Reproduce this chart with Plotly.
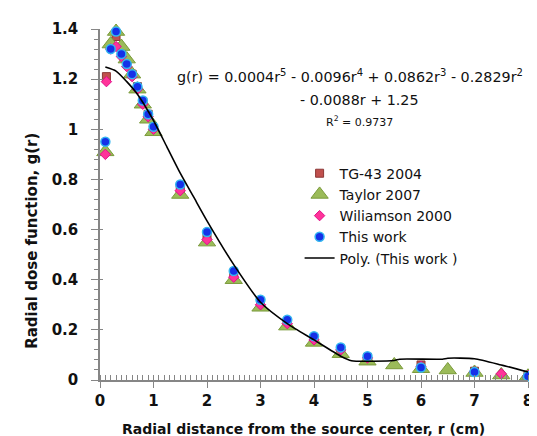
import plotly.graph_objects as go

# ---------------- data ----------------
r_tg43 = [0.12, 0.2, 0.3, 0.4, 0.5, 0.6, 0.7, 0.8, 0.9, 1.0, 1.5, 2.0, 2.5, 3.0, 3.5, 4.0, 4.5, 5.0, 6.0, 7.0, 8.0]
g_tg43 = [1.21, 1.33, 1.37, 1.31, 1.27, 1.22, 1.17, 1.11, 1.06, 1.00, 0.76, 0.57, 0.42, 0.31, 0.23, 0.165, 0.12, 0.09, 0.06, 0.035, 0.02]

r_taylor = [0.1, 0.2, 0.3, 0.4, 0.5, 0.6, 0.7, 0.8, 0.9, 1.0, 1.5, 2.0, 2.5, 3.0, 3.5, 4.0, 4.5, 5.0, 5.5, 6.0, 6.5, 7.0, 7.5, 8.0]
g_taylor = [0.91, 1.34, 1.39, 1.33, 1.28, 1.22, 1.16, 1.10, 1.04, 0.99, 0.74, 0.55, 0.40, 0.29, 0.215, 0.15, 0.105, 0.075, 0.06, 0.045, 0.04, 0.03, 0.02, 0.015]

r_will = [0.1, 0.12, 0.2, 0.3, 0.4, 0.5, 0.6, 0.7, 0.8, 0.9, 1.0, 1.5, 2.0, 2.5, 3.0, 3.5, 4.0, 4.5, 5.0, 6.0, 7.0, 7.5, 8.0]
g_will = [0.90, 1.19, 1.32, 1.33, 1.29, 1.25, 1.21, 1.16, 1.10, 1.05, 1.00, 0.755, 0.56, 0.41, 0.30, 0.225, 0.16, 0.12, 0.088, 0.055, 0.033, 0.025, 0.018]

r_this = [0.1, 0.2, 0.3, 0.4, 0.5, 0.6, 0.7, 0.8, 0.9, 1.0, 1.5, 2.0, 2.5, 3.0, 3.5, 4.0, 4.5, 5.0, 6.0, 7.0, 8.0]
g_this = [0.95, 1.32, 1.39, 1.30, 1.26, 1.22, 1.17, 1.115, 1.06, 1.01, 0.78, 0.59, 0.435, 0.32, 0.24, 0.175, 0.13, 0.095, 0.05, 0.032, 0.015]

# polynomial trendline (This work)
r_fit = [0.1, 0.3, 0.5, 0.7, 1.0, 1.25, 1.5, 1.75, 2.0, 2.5, 3.0, 3.5, 4.0, 4.5, 4.7, 5.5, 5.6, 6.4, 6.5, 7.0, 7.5, 8.0]
g_fit = [1.248, 1.232, 1.19, 1.14, 1.035, 0.93, 0.825, 0.73, 0.635, 0.46, 0.31, 0.225, 0.16, 0.095, 0.077, 0.078, 0.083, 0.083, 0.087, 0.085, 0.06, 0.032]

x_ticks = [0, 1, 2, 3, 4, 5, 6, 7, 8]
y_ticks = [0, 0.2, 0.4, 0.6, 0.8, 1.0, 1.2, 1.4]
y_ticklabels = ["0", "0.2", "0.4", "0.6", "0.8", "1", "1.2", "1.4"]

names = ["TG-43 2004", "Taylor 2007", "Wiliamson 2000", "This work", "Poly. (This work )"]
eq_line1 = "g(r) = 0.0004r<sup>5</sup> - 0.0096r<sup>4</sup> + 0.0862r<sup>3</sup> - 0.2829r<sup>2</sup>"
eq_line2 = "- 0.0088r + 1.25"
eq_r2 = "R<sup>2</sup> = 0.9737"
x_title = "Radial distance from the source center, r (cm)"
y_title = "Radial dose function, g(r)"

FONT = "DejaVu Sans"
AX = "#868686"

fig = go.Figure()
fig.add_trace(go.Scatter(x=r_tg43, y=g_tg43, mode="markers", name=names[0],
                         marker=dict(symbol="square", size=8, color="#C0504D",
                                     line=dict(color="#8C3836", width=1)),
                         cliponaxis=False))
fig.add_trace(go.Scatter(x=r_taylor, y=g_taylor, mode="markers", name=names[1],
                         marker=dict(symbol="triangle-up", size=15, color="#9BBB59",
                                     line=dict(color="#7A9A3A", width=1)),
                         cliponaxis=False))
fig.add_trace(go.Scatter(x=r_will, y=g_will, mode="markers", name=names[2],
                         marker=dict(symbol="diamond", size=8, color="#FF3399",
                                     line=dict(color="#E0108A", width=1)),
                         cliponaxis=False))
fig.add_trace(go.Scatter(x=r_this, y=g_this, mode="markers", name=names[3],
                         marker=dict(symbol="circle", size=9, color="#1530E8",
                                     line=dict(color="#33B5F0", width=1.5)),
                         cliponaxis=False))
fig.add_trace(go.Scatter(x=r_fit, y=g_fit, mode="lines", name=names[4],
                         line=dict(color="black", width=1.6, shape="spline", smoothing=0.6),
                         cliponaxis=False))

# invisible trace to carry the crossing (inside) part of the major ticks
fig.add_trace(go.Scatter(x=[0, 8], y=[0, 1.4], xaxis="x2", yaxis="y2", mode="markers",
                         marker=dict(opacity=0), showlegend=False, hoverinfo="skip"))

fig.update_layout(
    width=537, height=436,
    margin=dict(l=92, r=14, t=20, b=64),
    paper_bgcolor="white", plot_bgcolor="white",
    font=dict(family=FONT, color="black"),
    xaxis=dict(range=[0, 8], tickvals=x_ticks, ticks="outside", ticklen=6, tickwidth=1.2,
               tickcolor=AX, showline=True, linecolor=AX, linewidth=1.5, showgrid=False,
               zeroline=False, tickfont=dict(family=FONT, size=15, color="#111", weight="bold"),
               minor=dict(dtick=0.1, ticks="inside", ticklen=5, tickcolor=AX, tickwidth=1, showgrid=False)),
    yaxis=dict(range=[0, 1.4], tickvals=y_ticks, ticktext=y_ticklabels, ticks="outside",
               ticklen=7, tickwidth=1.2, tickcolor=AX, showline=True, linecolor=AX,
               linewidth=1.5, showgrid=False, zeroline=False, ticklabelstandoff=10,
               tickfont=dict(family=FONT, size=15, color="#111", weight="bold"),
               minor=dict(dtick=0.04, ticks="outside", ticklen=4, tickcolor=AX, tickwidth=1, showgrid=False)),
    xaxis2=dict(range=[0, 8], tickvals=x_ticks, ticks="inside", ticklen=4, tickwidth=1.2,
                tickcolor=AX, showticklabels=False, showgrid=False, zeroline=False,
                overlaying="x", anchor="y"),
    yaxis2=dict(range=[0, 1.4], tickvals=y_ticks, ticks="inside", ticklen=3, tickwidth=1.2,
                tickcolor=AX, showticklabels=False, showgrid=False, zeroline=False,
                overlaying="y", anchor="x"),
    legend=dict(x=(293 - 92) / 431, y=(372 - 149) / 352, xanchor="left", yanchor="top",
                bgcolor="rgba(0,0,0,0)", font=dict(family=FONT, size=14, color="#111"),
                itemwidth=30),
    showlegend=True,
)

fig.add_annotation(text=eq_line1, xref="paper", yref="paper", x=(168 - 92) / 431, y=(372 - 67) / 352,
                   xanchor="left", yanchor="middle", showarrow=False,
                   font=dict(family=FONT, size=14.3, color="#111"))
fig.add_annotation(text=eq_line2, xref="paper", yref="paper", x=(353 - 92) / 431, y=(372 - 91) / 352,
                   xanchor="center", yanchor="middle", showarrow=False,
                   font=dict(family=FONT, size=14.3, color="#111"))
fig.add_annotation(text=eq_r2, xref="paper", yref="paper", x=(353 - 92) / 431, y=(372 - 113) / 352,
                   xanchor="center", yanchor="middle", showarrow=False,
                   font=dict(family=FONT, size=11, color="#111"))
fig.add_annotation(text="<b>" + x_title + "</b>", xref="paper", yref="paper",
                   x=(297 - 92) / 431, y=(372 - 421) / 352, xanchor="center", yanchor="middle",
                   showarrow=False, font=dict(family=FONT, size=14, color="#111"))
fig.add_annotation(text="<b>" + y_title + "</b>", xref="paper", yref="paper",
                   x=(24 - 92) / 431, y=(372 - 232) / 352, xanchor="center", yanchor="middle",
                   textangle=-90, showarrow=False, font=dict(family=FONT, size=15, color="#111"))

fig.write_html("out.html")
